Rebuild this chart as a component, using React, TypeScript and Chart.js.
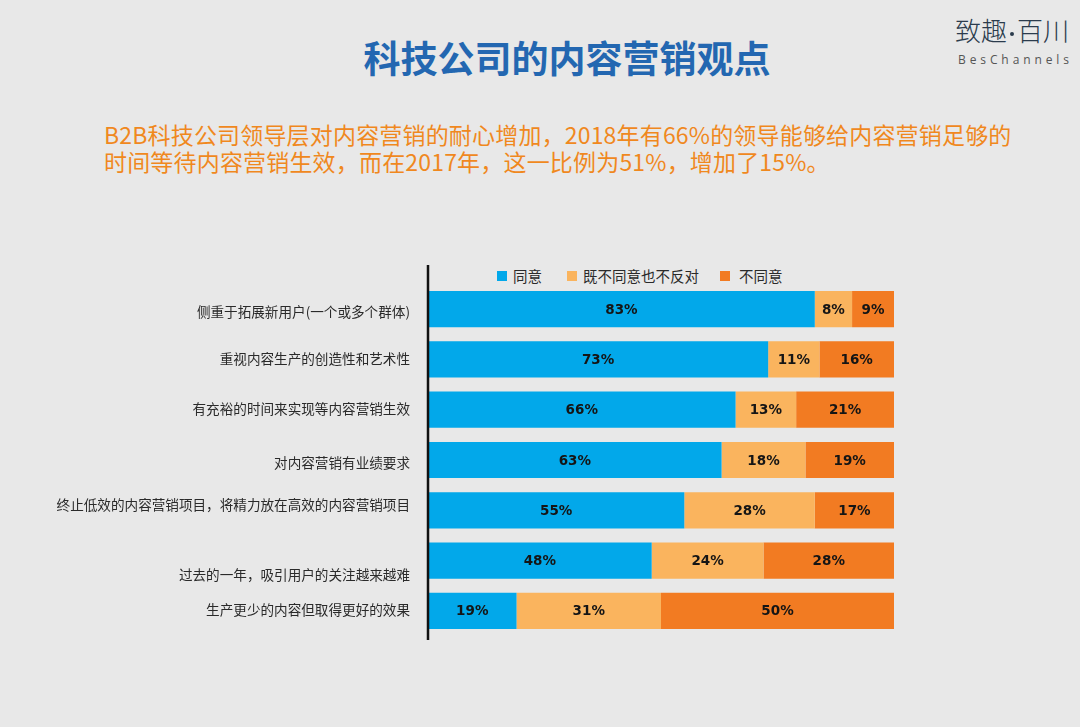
import React, { useEffect, useRef } from "react";
import { Chart, registerables } from "chart.js";

Chart.register(...registerables);

const categories = [
  "侧重于拓展新用户(一个或多个群体)",
  "重视内容生产的创造性和艺术性",
  "有充裕的时间来实现等内容营销生效",
  "对内容营销有业绩要求",
  "终止低效的内容营销项目，将精力放在高效的内容营销项目",
  "过去的一年，吸引用户的关注越来越难",
  "生产更少的内容但取得更好的效果",
];
const seriesNames = ["同意", "既不同意也不反对", "不同意"];
const agreeValues = [83, 73, 66, 63, 55, 48, 19];
const neutralValues = [8, 11, 13, 18, 28, 24, 31];
const disagreeValues = [9, 16, 21, 19, 17, 28, 50];

const seriesColors = ["#02A8EA", "#FAB45E", "#F27B22"];
const labelYOffsets = [3, -1, -1, 2.5, -5, 14, -1.5];

const FONT_CJK = '"Noto Sans CJK SC", "Noto Sans", sans-serif';

export default function App() {
  const canvasRef = useRef<HTMLCanvasElement | null>(null);

  useEffect(() => {
    const canvas = canvasRef.current;
    if (!canvas) return;

    const axisLinePlugin = {
      id: "axisLine",
      afterDraw(chart: any) {
        const { ctx, chartArea } = chart;
        ctx.save();
        ctx.strokeStyle = "#111";
        ctx.lineWidth = 2.5;
        ctx.beginPath();
        ctx.moveTo(chartArea.left, chartArea.top - 19);
        ctx.lineTo(chartArea.left, chartArea.bottom + 4);
        ctx.stroke();
        ctx.restore();
      },
    };

    const categoryLabelPlugin = {
      id: "categoryLabels",
      afterDraw(chart: any) {
        const { ctx, chartArea } = chart;
        const yScale = chart.scales.y;
        ctx.save();
        ctx.font = `13.6px ${FONT_CJK}`;
        ctx.fillStyle = "#2a2a2a";
        ctx.textAlign = "right";
        ctx.textBaseline = "middle";
        categories.forEach((c, i) => {
          const y = yScale.getPixelForValue(i) + (labelYOffsets[i] || 0);
          ctx.fillText(c, chartArea.left - 18, y);
        });
        ctx.restore();
      },
    };

    const valueLabelPlugin = {
      id: "valueLabels",
      afterDatasetsDraw(chart: any) {
        const { ctx } = chart;
        ctx.save();
        ctx.font = 'bold 13.5px "DejaVu Sans", sans-serif';
        ctx.fillStyle = "#151515";
        ctx.textAlign = "center";
        ctx.textBaseline = "middle";
        chart.data.datasets.forEach((ds: any, di: number) => {
          const meta = chart.getDatasetMeta(di);
          meta.data.forEach((bar: any, i: number) => {
            const v = ds.data[i];
            const cx = (bar.x + bar.base) / 2;
            ctx.fillText(`${v}%`, cx, bar.y + 1);
          });
        });
        ctx.restore();
      },
    };

    const chart = new Chart(canvas, {
      type: "bar",
      data: {
        labels: categories,
        datasets: [
          { label: seriesNames[0], data: agreeValues, backgroundColor: seriesColors[0] },
          { label: seriesNames[1], data: neutralValues, backgroundColor: seriesColors[1] },
          { label: seriesNames[2], data: disagreeValues, backgroundColor: seriesColors[2] },
        ],
      },
      options: {
        indexAxis: "y",
        responsive: false,
        animation: false,
        maintainAspectRatio: false,
        layout: { padding: { top: 34, bottom: 24, left: 0, right: 186 } },
        datasets: {
          bar: { barPercentage: 0.72, categoryPercentage: 1, borderWidth: 0 },
        },
        scales: {
          x: { stacked: true, min: 0, max: 100, display: false },
          y: {
            stacked: true,
            grid: { display: false },
            border: { display: false },
            ticks: { display: false },
            afterFit(scale: any) {
              scale.width = 428;
            },
          },
        },
        plugins: {
          legend: { display: false },
          tooltip: { enabled: false },
        },
      } as any,
      plugins: [axisLinePlugin, categoryLabelPlugin, valueLabelPlugin],
    });

    return () => chart.destroy();
  }, []);

  const legendItem = (left: number, textLeft: number, color: string, text: string) => (
    <React.Fragment key={text}>
      <div
        style={{
          position: "absolute",
          left,
          top: 271,
          width: 10,
          height: 10,
          background: color,
        }}
      />
      <div
        style={{
          position: "absolute",
          left: textLeft,
          top: 266,
          fontSize: 14.5,
          lineHeight: "20px",
          color: "#2a2a2a",
          fontFamily: FONT_CJK,
          whiteSpace: "nowrap",
        }}
      >
        {text}
      </div>
    </React.Fragment>
  );

  return (
    <div
      style={{
        position: "absolute",
        left: 0,
        top: 0,
        width: 1080,
        height: 727,
        background: "#e8e8e8",
        overflow: "hidden",
        fontFamily: FONT_CJK,
      }}
    >
      <div
        style={{
          position: "absolute",
          left: 0,
          width: 1134,
          top: 38,
          textAlign: "center",
          fontSize: 37,
          lineHeight: "38px",
          fontWeight: 700,
          color: "#2367B1",
          whiteSpace: "nowrap",
        }}
      >
        科技公司的内容营销观点
      </div>

      <div
        style={{
          position: "absolute",
          left: 955,
          top: 15,
          fontSize: 26,
          lineHeight: "30px",
          fontWeight: 300,
          color: "#2B3B4C",
          whiteSpace: "nowrap",
        }}
      >
        致趣
        <span
          style={{
            display: "inline-block",
            width: 4,
            height: 4,
            borderRadius: 2,
            background: "#2B3B4C",
            verticalAlign: "middle",
            margin: "0 3px",
          }}
        />
        百川
      </div>
      <div
        style={{
          position: "absolute",
          left: 958,
          top: 52,
          fontSize: 12,
          lineHeight: "16px",
          color: "#555",
          letterSpacing: 3.9,
          fontFamily: '"Open Sans", sans-serif',
          whiteSpace: "nowrap",
        }}
      >
        BesChannels
      </div>

      <div
        style={{
          position: "absolute",
          left: 104,
          top: 121,
          fontSize: 23,
          lineHeight: "27px",
          letterSpacing: 0.18,
          color: "#F0881E",
          whiteSpace: "nowrap",
        }}
      >
        <div>B2B科技公司领导层对内容营销的耐心增加，2018年有66%的领导能够给内容营销足够的</div>
        <div>时间等待内容营销生效，而在2017年，这一比例为51%，增加了15%。</div>
      </div>

      {legendItem(497, 513, seriesColors[0], seriesNames[0])}
      {legendItem(567, 583, seriesColors[1], seriesNames[1])}
      {legendItem(720, 739, seriesColors[2], seriesNames[2])}

      <canvas
        ref={canvasRef}
        width={1080}
        height={410}
        style={{ position: "absolute", left: 0, top: 250, width: 1080, height: 410 }}
      />
    </div>
  );
}
